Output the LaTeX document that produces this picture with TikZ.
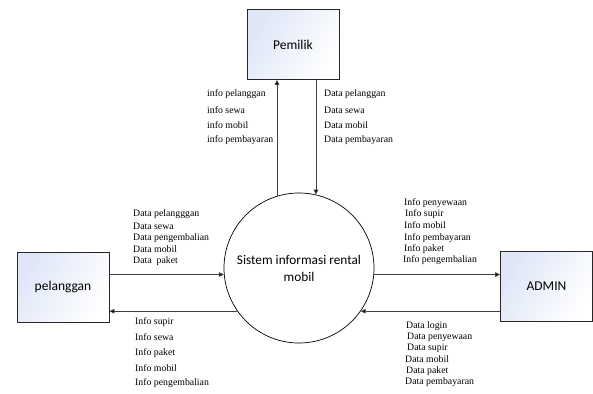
\documentclass[tikz,border=0pt]{standalone}
\usepackage{fontspec}
\setmainfont{Liberation Serif}
\newfontfamily\boxfont{Carlito}
\usetikzlibrary{arrows.meta}
\begin{document}
\begin{tikzpicture}[x=1pt,y=-1pt,
  ent/.style={draw=black!85, line width=0.8pt, left color={rgb,255:red,222;green,230;blue,247}, right color=white, shading angle=60, minimum width=92pt, minimum height=70pt, font=\boxfont\fontsize{13.5}{15}\selectfont, inner sep=0pt},
  proc/.style={draw=black, line width=0.7pt, circle, minimum size=150pt, inner sep=0pt, align=center, font=\boxfont\fontsize{13.3}{17}\selectfont},
  arr/.style={draw=black!75, line width=0.8pt, -{Triangle[length=5pt,width=4.5pt,fill=black]}},
  lbl/.style={anchor=west, inner sep=0pt, font=\fontsize{9.8}{11}\selectfont}]
\useasboundingbox (0,0) rectangle (593,393);
\node[ent] (pem) at (293,44.5) {Pemilik};
\node[ent] (pel) at (63,287) {pelanggan};
\node[ent] (adm) at (546.5,286.5) {ADMIN};
\node[proc] (sis) at (299,268) {Sistem informasi rental\\mobil};
% connectors
\draw[arr] (sis.107.9) -- (sis.107.9 |- pem.south);
\draw[arr] (sis.77.7 |- pem.south) -- (sis.77.7);
\draw[arr] (pel.east |- sis.185.4) -- (sis.185.4);
\draw[arr] (sis.215) -- (sis.215 -| pel.east);
\draw[arr] (sis.-5.4) -- (sis.-5.4 -| adm.west);
\draw[arr] (sis.-35 -| adm.west) -- (sis.-35);
% labels Pemilik left
\node[lbl] (pl1) at (207,94) {info pelanggan};
\node[lbl] (pl2) at (207,110) {info sewa};
\node[lbl] (pl3) at (207,125) {info mobil};
\node[lbl] (pl4) at (207,140) {info pembayaran};
% Pemilik right
\node[lbl] (pr1) at (324,94) {Data pelanggan};
\node[lbl] (pr2) at (324,110) {Data sewa};
\node[lbl] (pr3) at (324,125) {Data mobil};
\node[lbl] (pr4) at (324,140) {Data pembayaran};
% pelanggan top
\node[lbl] (lt1) at (133,214) {Data pelangggan};
\node[lbl] (lt2) at (133,226) {Data sewa};
\node[lbl] (lt3) at (133,238) {Data pengembalian};
\node[lbl] (lt4) at (133,249) {Data mobil};
\node[lbl] (lt5) at (133,261) {Data \ paket};
% pelanggan bottom
\node[lbl] (lb1) at (135,322) {Info supir};
\node[lbl] (lb2) at (135,337) {Info sewa};
\node[lbl] (lb3) at (135,353) {Info paket};
\node[lbl] (lb4) at (135,368) {Info mobil};
\node[lbl] (lb5) at (135,383) {Info pengembalian};
% admin top
\node[lbl] (at1) at (404,203) {Info penyewaan};
\node[lbl] (at2) at (405,214) {Info supir};
\node[lbl] (at3) at (404,225) {Info mobil};
\node[lbl] (at4) at (404,238) {Info pembayaran};
\node[lbl] (at5) at (404,249) {Info paket};
\node[lbl] (at6) at (403,260) {Info pengembalian};
% admin bottom
\node[lbl] (ab1) at (406,326) {Data login};
\node[lbl] (ab2) at (407,337) {Data penyewaan};
\node[lbl] (ab3) at (407,348) {Data supir};
\node[lbl] (ab4) at (405,359) {Data mobil};
\node[lbl] (ab5) at (406,371) {Data paket};
\node[lbl] (ab6) at (405,382) {Data pembayaran};
\end{tikzpicture}
\end{document}
